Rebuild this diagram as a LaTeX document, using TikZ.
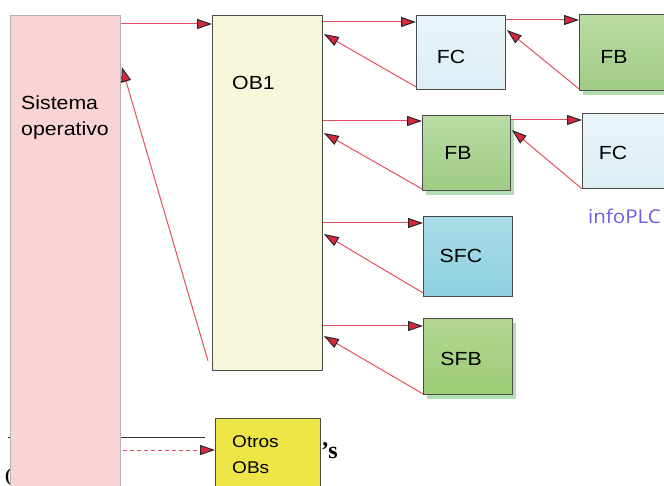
\documentclass[tikz,border=0pt]{standalone}
\usepackage{fontspec}
\setmainfont{Liberation Sans}
\newfontfamily\boxfont[FakeStretch=1.12]{Liberation Sans}
\newfontfamily\wmfont[FakeStretch=1.08]{Open Sans}
\newfontfamily\serfont{Liberation Serif}
\usetikzlibrary{arrows.meta,calc,shadows}
\definecolor{sopink}{HTML}{F9D3D5}
\definecolor{obyel}{HTML}{F7F6D8}
\definecolor{fcblue}{HTML}{DCEEF4}
\definecolor{fcbluelt}{HTML}{E8F4F8}
\definecolor{fbgreen}{HTML}{9FCB84}
\definecolor{fbgreenlt}{HTML}{B9DCA3}
\definecolor{sfcblue}{HTML}{8FD0DF}
\definecolor{sfcbluelt}{HTML}{A9DCE8}
\definecolor{sfbgreen}{HTML}{9CCB75}
\definecolor{sfbgreenlt}{HTML}{B2D793}
\definecolor{otyel}{HTML}{EEE548}
\definecolor{linkred}{HTML}{E2505C}
\definecolor{tipred}{HTML}{D9283C}
\definecolor{wmblue}{HTML}{6B5FE0}
\tikzset{
  blk/.style={rectangle, anchor=north west, inner sep=0pt, draw=black!70, line width=0.9pt},
  gshadow/.style={drop shadow={shadow xshift=4pt, shadow yshift=-5pt, fill=green!55!black, opacity=0.3}},
  lbl/.style={font=\boxfont\fontsize{19}{26}\selectfont, text=black, inner sep=0pt},
  link/.style={draw=linkred, line width=1pt, -{Triangle[length=15pt,width=10pt,color=black!85,fill=tipred,line width=1pt]}},
  dlink/.style={link, dash pattern=on 4pt off 3pt},
}
\begin{document}
\begin{tikzpicture}[x=1pt,y=-1pt]
\useasboundingbox (0,0) rectangle (664,486);
\clip (0,0) rectangle (664,486);
% background artefacts
\coordinate (bl1) at (8,437);
\coordinate (bl2) at (205,437);
\draw[black!80, line width=0.8pt] (bl1) -- (bl2);
\node[font=\serfont\bfseries\fontsize{18}{18}\selectfont, anchor=base west, inner sep=0pt] (paren) at (5,481) {(};
% boxes
\node[blk, draw=gray!60, fill=sopink, minimum width=110pt, minimum height=500pt] (so) at (10,15) {};
\node[blk, fill=obyel, minimum width=110pt, minimum height=355pt] (ob1) at (212,15) {};
\node[blk, top color=fcbluelt, bottom color=fcblue, minimum width=89pt, minimum height=74pt] (fc1) at (416,15) {};
\node[blk, gshadow, top color=fbgreenlt, bottom color=fbgreen, minimum width=100pt, minimum height=76pt] (fb1) at (579,14) {};
\node[blk, gshadow, top color=fbgreenlt, bottom color=fbgreen, minimum width=88pt, minimum height=75pt] (fb2) at (422,115) {};
\node[blk, top color=fcbluelt, bottom color=fcblue, minimum width=100pt, minimum height=75pt] (fc2) at (582,113) {};
\node[blk, top color=sfcbluelt, bottom color=sfcblue, minimum width=89pt, minimum height=80pt] (sfc) at (423,216) {};
\node[blk, gshadow, top color=sfbgreenlt, bottom color=sfbgreen, minimum width=89pt, minimum height=76pt] (sfb) at (423,318) {};
\node[blk, fill=otyel, minimum width=105pt, minimum height=80pt] (ot) at (215,418) {};
% texts
\node[lbl, anchor=north west, align=left] (sotext) at (21,96) {Sistema\\operativo};
\node[lbl, anchor=base west] (obtext) at (232,90) {OB1};
\node[lbl, anchor=base] (fc1text) at (451,64) {FC};
\node[lbl, anchor=base] (fb1text) at (614,64) {FB};
\node[lbl, anchor=base] (fb2text) at (458,160) {FB};
\node[lbl, anchor=base] (fc2text) at (613,160) {FC};
\node[lbl, anchor=base] (sfctext) at (461,263) {SFC};
\node[lbl, anchor=base] (sfbtext) at (461,365) {SFB};
\node[lbl, font=\boxfont\fontsize{17}{26}\selectfont, anchor=north west, align=left] (ottext) at (232,435) {Otros\\OBs};
\node[font=\wmfont\fontsize{19}{19}\selectfont, text=wmblue, anchor=base west, inner sep=0pt] (wm) at (588,224) {infoPLC};
\node[font=\serfont\bfseries\fontsize{24}{24}\selectfont, anchor=base west, inner sep=0pt] (apos) at (321,458) {’s};
% connectors
\draw[link] ($(so.north east)+(0,9)$) -- ($(ob1.north west)+(0,9)$);
\draw[link] ($(ob1.south west)+(-4,-10)$) -- ($(so.north east)+(1,52)$);
\draw[link] ($(ob1.north east)+(0,7)$) -- ($(fc1.north west)+(0,7)$);
\draw[link] ($(fc1.south west)+(0,-3)$) -- ($(ob1.north east)+(1,19)$);
\draw[link] ($(fc1.north east)+(0,5)$) -- ($(fb1.north west)+(0,6)$);
\draw[link] ($(fb1.south west)+(0,-2)$) -- ($(fc1.north east)+(1,15)$);
\draw[link] ($(ob1.north east)+(0,106)$) -- ($(fb2.north west)+(0,6)$);
\draw[link] ($(fb2.south west)+(0,-2)$) -- ($(ob1.north east)+(1,118)$);
\draw[link] ($(fb2.north east)+(0,5)$) -- ($(fc2.north west)+(0,7)$);
\draw[link] ($(fc2.south west)+(0,0)$) -- ($(fb2.north east)+(1,15)$);
\draw[link] ($(ob1.north east)+(0,208)$) -- ($(sfc.north west)+(0,7)$);
\draw[link] ($(sfc.south west)+(0,-4)$) -- ($(ob1.north east)+(1,219)$);
\draw[link] ($(ob1.north east)+(0,311)$) -- ($(sfb.north west)+(0,8)$);
\draw[link] ($(sfb.south west)+(0,-1)$) -- ($(ob1.north east)+(1,321)$);
\draw[dlink] ($(so.north east)+(2,435)$) -- ($(ot.north west)+(0,32)$);
\end{tikzpicture}
\end{document}
